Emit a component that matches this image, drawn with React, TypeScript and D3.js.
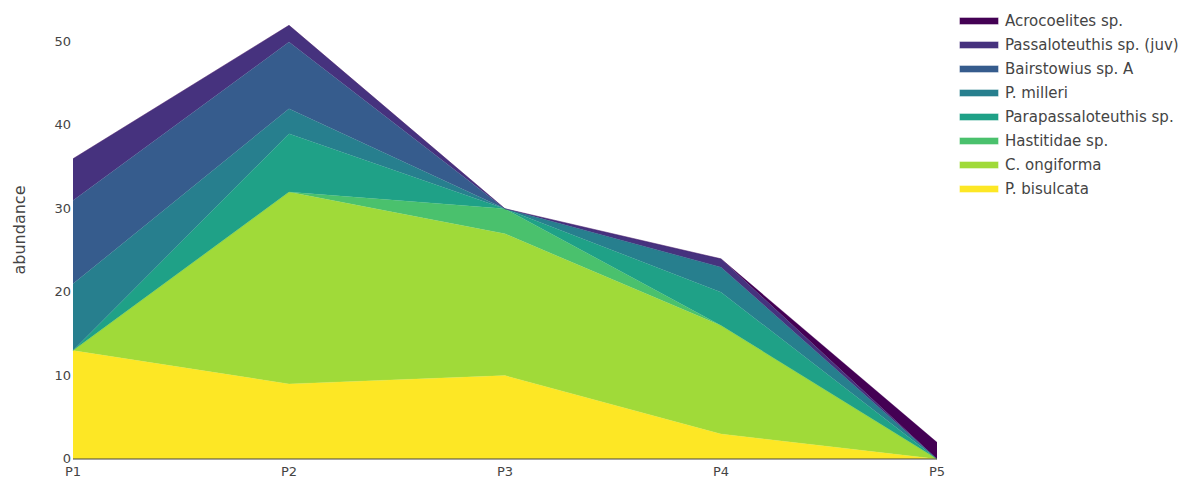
import React, { useEffect, useRef } from 'react';
import * as d3 from 'd3';

const sites = ['P1', 'P2', 'P3', 'P4', 'P5'];
// stacking order, bottom first
const species = [
  'P. bisulcata',
  'C. ongiforma',
  'Hastitidae sp.',
  'Parapassaloteuthis sp.',
  'P. milleri',
  'Bairstowius sp. A',
  'Passaloteuthis sp. (juv)',
  'Acrocoelites sp.',
];
const bisulcata = [13, 9, 10, 3, 0];
const ongiforma = [0, 23, 17, 13, 0];
const hastitidae = [0, 0, 3, 0, 0];
const parapassaloteuthis = [0, 7, 0, 4, 0];
const milleri = [8, 3, 0, 3, 0];
const bairstowius = [10, 8, 0, 0, 0];
const passaloteuthis = [5, 2, 0, 1, 0];
const acrocoelites = [0, 0, 0, 0, 2];
const seriesValues = [bisulcata, ongiforma, hastitidae, parapassaloteuthis, milleri, bairstowius, passaloteuthis, acrocoelites];
const colors = ['#fde725', '#a0da39', '#4ac16d', '#1fa187', '#277f8e', '#365c8d', '#46327e', '#440154'];
const yTicks = [0, 10, 20, 30, 40, 50];

const App = () => {
  const svgRef = useRef<SVGSVGElement>(null);

  useEffect(() => {
    const width = 1195;
    const height = 481;
    const svg = d3.select(svgRef.current);
    svg.selectAll('*').remove();
    svg.attr('width', width).attr('height', height);

    const font = '"DejaVu Sans", Verdana, sans-serif';

    const x = d3.scalePoint().domain(sites).range([73, 937]);
    const y = d3.scaleLinear().domain([0, 50]).range([459, 42]);

    const table = sites.map((s, i) => {
      const row: any = { site: s };
      species.forEach((sp, j) => { row[sp] = seriesValues[j][i]; });
      return row;
    });
    const stacked = d3.stack().keys(species)(table);

    const area = d3.area<any>()
      .x((d) => x(d.data.site) as number)
      .y0((d) => y(d[0]))
      .y1((d) => y(d[1]));
    const line = d3.line<any>()
      .x((d) => x(d.data.site) as number)
      .y((d) => y(d[1]));

    const g = svg.append('g');
    stacked.forEach((layer, i) => {
      g.append('path')
        .attr('d', area(layer as any) as string)
        .attr('fill', colors[i]);
    });
    stacked.forEach((layer, i) => {
      g.append('path')
        .attr('d', line(layer as any) as string)
        .attr('fill', 'none')
        .attr('stroke', colors[i])
        .attr('stroke-opacity', 0.6)
        .attr('stroke-width', 0.5);
    });

    // x axis line
    svg.append('line')
      .attr('x1', 73).attr('x2', 937)
      .attr('y1', y(0)).attr('y2', y(0))
      .attr('stroke', '#444').attr('stroke-width', 1);

    svg.append('g').selectAll('text')
      .data(sites)
      .enter()
      .append('text')
      .attr('x', (d) => x(d) as number)
      .attr('y', 476)
      .attr('text-anchor', 'middle')
      .attr('font-family', font)
      .attr('font-size', '13px')
      .attr('fill', '#444')
      .text((d) => d);

    svg.append('g').selectAll('text')
      .data(yTicks)
      .enter()
      .append('text')
      .attr('x', 71)
      .attr('y', (d) => y(d) + 4)
      .attr('text-anchor', 'end')
      .attr('font-family', font)
      .attr('font-size', '13px')
      .attr('fill', '#444')
      .text((d) => d);

    svg.append('text')
      .attr('transform', 'translate(25,230) rotate(-90)')
      .attr('text-anchor', 'middle')
      .attr('font-family', font)
      .attr('font-size', '16px')
      .attr('fill', '#444')
      .text('abundance');

    // legend, top species first
    const legend = svg.append('g').attr('transform', 'translate(960,21)');
    const order = species.map((s, i) => i).reverse();
    order.forEach((idx, k) => {
      const row = legend.append('g').attr('transform', `translate(0,${k * 24})`);
      row.append('rect')
        .attr('x', 0).attr('y', -3)
        .attr('width', 38).attr('height', 6)
        .attr('fill', colors[idx])
        .attr('stroke', colors[idx])
        .attr('stroke-opacity', 0.6);
      row.append('text')
        .attr('x', 45)
        .attr('y', 5)
        .attr('font-family', font)
        .attr('font-size', '15px')
        .attr('fill', '#444')
        .text(species[idx]);
    });
  }, []);

  return <svg ref={svgRef} style={{ position: 'absolute', left: 0, top: 0 }}></svg>;
};

export default App;
